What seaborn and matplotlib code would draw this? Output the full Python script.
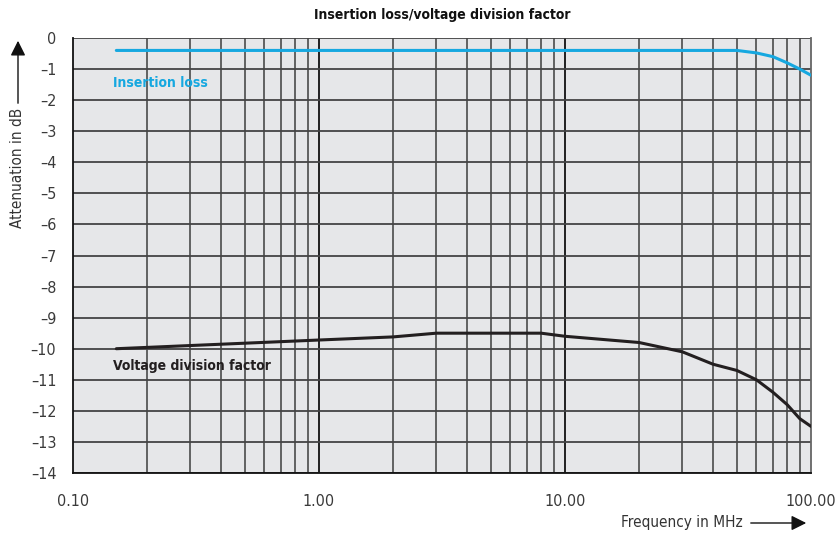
import numpy as np
import pandas as pd
import matplotlib
matplotlib.use("Agg")
import matplotlib.pyplot as plt
import seaborn as sns
from matplotlib.ticker import FixedLocator, NullFormatter

# Measured curves (frequency in MHz, attenuation in dB)
freq_il = [0.15, 1, 10, 50, 60, 70, 80, 90, 100]
insertion_loss = [-0.4, -0.4, -0.4, -0.4, -0.48, -0.6, -0.8, -1.0, -1.2]

freq_vd = [0.15, 1, 2, 3, 8, 10, 20, 30, 40, 50, 60, 70, 80, 90, 100]
voltage_division = [-10.0, -9.72, -9.62, -9.5, -9.5, -9.6, -9.8, -10.1, -10.5,
                    -10.7, -11.0, -11.4, -11.8, -12.25, -12.5]

x_ticks = [0.1, 1, 10, 100]
x_tick_labels = ["0.10", "1.00", "10.00", "100.00"]
y_ticks = list(range(0, -15, -1))
y_tick_labels = ["0"] + ["\u2013%d" % k for k in range(1, 15)]

sns.set_theme(style="white")
plt.rcParams["font.family"] = ["DejaVu Sans"]
plt.rcParams["font.stretch"] = "condensed"

BLUE = "#16a8e0"
DARK = "#231f20"
BG = "#e6e7e9"

fig = plt.figure(figsize=(8.35, 5.37), dpi=100)
ax = fig.add_axes([73 / 835, 1 - 473 / 537, (811 - 73) / 835, (473 - 38) / 537])
ax.set_facecolor(BG)

df_il = pd.DataFrame({"f": freq_il, "a": insertion_loss})
df_vd = pd.DataFrame({"f": freq_vd, "a": voltage_division})

ax.set_xscale("log")
ax.set_xlim(0.1, 100)
ax.set_ylim(-14, 0)

# grid: vertical lines on every decade subdivision, horizontal at each dB
minor_x = [m * d for d in (0.1, 1, 10) for m in range(2, 10)]
for xv in minor_x:
    ax.axvline(xv, color="#575757", lw=1.3, zorder=1)
for xv in x_ticks[1:3]:
    ax.axvline(xv, color="#111111", lw=1.3, zorder=1)
for yv in y_ticks:
    ax.axhline(yv, color="#444444", lw=1.3, zorder=1)

sns.lineplot(data=df_il, x="f", y="a", ax=ax, color=BLUE, lw=2.2, zorder=3)
sns.lineplot(data=df_vd, x="f", y="a", ax=ax, color=DARK, lw=2.2, zorder=3)

ax.text(0.145, -1.45, "Insertion loss", color=BLUE, fontsize=10,
        fontweight="bold", ha="left", va="center", zorder=4)
ax.text(0.145, -10.55, "Voltage division factor", color=DARK, fontsize=10,
        fontweight="bold", ha="left", va="center", zorder=4)

ax.xaxis.set_major_locator(FixedLocator(x_ticks))
ax.xaxis.set_minor_locator(FixedLocator([]))
ax.xaxis.set_minor_formatter(NullFormatter())
ax.set_xticklabels(x_tick_labels)
ax.set_yticks(y_ticks)
ax.set_yticklabels(y_tick_labels)
ax.tick_params(axis="both", direction="out", length=9, width=1.2,
               color="#111111", labelsize=11.5, labelcolor="#3a3a3a", pad=3)
ax.tick_params(axis="x", pad=6)
ax.set_xlabel("")
ax.set_ylabel("")

for side in ("left", "bottom"):
    ax.spines[side].set_color("#111111")
    ax.spines[side].set_linewidth(1.3)
ax.spines["top"].set_visible(False)
ax.spines["right"].set_color("#666666")
ax.spines["right"].set_linewidth(1.3)

fig.text(442 / 835, 1 - 15 / 537, "Insertion loss/voltage division factor",
         ha="center", va="center", fontsize=10, fontweight="bold", color="#111111")

# axis titles with arrows
fig.text(18 / 835, 1 - 168 / 537, "Attenuation in dB", rotation=90,
         ha="center", va="center", fontsize=11, color="#333333")
fig.add_artist(matplotlib.patches.FancyArrowPatch(
    (18 / 835, 1 - 106 / 537), (18 / 835, 1 - 38 / 537),
    transform=fig.transFigure, arrowstyle="-|>,head_length=6,head_width=3",
    color="#111111", lw=1.0, mutation_scale=1.5))
fig.text(682 / 835, 1 - 523 / 537, "Frequency in MHz",
         ha="center", va="center", fontsize=11, color="#333333")
fig.add_artist(matplotlib.patches.FancyArrowPatch(
    (748 / 835, 1 - 523 / 537), (809 / 835, 1 - 523 / 537),
    transform=fig.transFigure, arrowstyle="-|>,head_length=6,head_width=3",
    color="#111111", lw=1.0, mutation_scale=1.5))

fig.savefig("out.png", dpi=100, facecolor="white")
